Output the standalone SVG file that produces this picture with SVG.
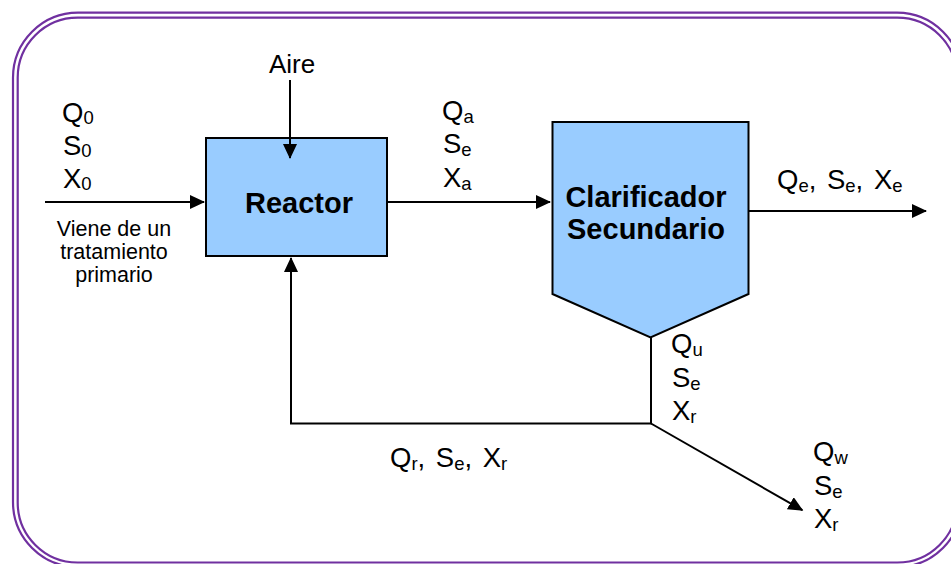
<svg xmlns="http://www.w3.org/2000/svg" width="951" height="564" viewBox="0 0 951 564">
  <style>
    .frame { fill: none; stroke: #7030A0; stroke-width: 2.2; }
    .box { fill: #99CCFF; stroke: #000; stroke-width: 2; }
    .conn { fill: none; stroke: #000; stroke-width: 2; }
    .lbl { font-family: "Liberation Sans", Arial, sans-serif; font-size: 27.5px; fill: #000; }
    .list { word-spacing: 3px; }
    .sub { font-size: 18.5px; }
    .small { font-family: "Liberation Sans", Arial, sans-serif; font-size: 21.5px; fill: #000; text-anchor: middle; }
    .title { font-family: "Liberation Sans", Arial, sans-serif; font-size: 29px; font-weight: bold; fill: #000; text-anchor: middle; }
  </style>
  <defs>
    <marker id="arrow" markerUnits="userSpaceOnUse" markerWidth="16" markerHeight="14" refX="14" refY="7" orient="auto" viewBox="0 0 16 14">
      <path d="M0,0 L15,7 L0,14 z" fill="#000"/>
    </marker>
  </defs>
  <rect width="951" height="564" fill="#fff"/>
  <g id="frame">
    <rect class="frame" x="13" y="12.7" width="949" height="554.3" rx="65" ry="65"/>
    <rect class="frame" x="17.7" y="17.7" width="939.5" height="544.8" rx="60" ry="60"/>
  </g>
  <g id="reactor">
    <rect class="box" x="206" y="138" width="181" height="118"/>
    <text class="title" x="299" y="213">Reactor</text>
  </g>
  <g id="clarificador">
    <polygon class="box" points="552.5,122 748.5,122 748.5,294 650.5,337.5 552.5,294"/>
    <text class="title" x="646" y="207">Clarificador</text>
    <text class="title" x="646" y="239">Secundario</text>
  </g>
  <g id="connectors">
    <line class="conn" x1="45" y1="202" x2="204" y2="202" marker-end="url(#arrow)"/>
    <line class="conn" x1="290" y1="80" x2="290" y2="158" marker-end="url(#arrow)"/>
    <line class="conn" x1="388" y1="202" x2="550" y2="202" marker-end="url(#arrow)"/>
    <line class="conn" x1="749" y1="211" x2="926" y2="211" marker-end="url(#arrow)"/>
    <polyline class="conn" points="651,338 651,423.5 291,423.5 291,258" marker-end="url(#arrow)"/>
    <line class="conn" x1="651" y1="423.5" x2="802.4" y2="510.2" marker-end="url(#arrow)"/>
  </g>
  <g id="aire">
    <text class="lbl" x="292" y="73" text-anchor="middle" style="font-size:26px">Aire</text>
  </g>
  <g id="entrada">
    <text class="lbl" x="62" y="122">Q<tspan class="sub" dy="2">0</tspan></text>
    <text class="lbl" x="63" y="155">S<tspan class="sub" dy="2">0</tspan></text>
    <text class="lbl" x="63" y="188">X<tspan class="sub" dy="2">0</tspan></text>
    <text class="small" x="114" y="236">Viene de un</text>
    <text class="small" x="114" y="259">tratamiento</text>
    <text class="small" x="114" y="282">primario</text>
  </g>
  <g id="salida-reactor">
    <text class="lbl" x="442" y="120">Q<tspan class="sub" dy="3">a</tspan></text>
    <text class="lbl" x="443" y="153">S<tspan class="sub" dy="3">e</tspan></text>
    <text class="lbl" x="443" y="187">X<tspan class="sub" dy="3">a</tspan></text>
  </g>
  <g id="efluente">
    <text class="lbl list" x="777" y="189">Q<tspan class="sub" dy="3">e</tspan><tspan dy="-3">, S</tspan><tspan class="sub" dy="3">e</tspan><tspan dy="-3">, X</tspan><tspan class="sub" dy="3">e</tspan></text>
  </g>
  <g id="fondo">
    <text class="lbl" x="671" y="353">Q<tspan class="sub" dy="3">u</tspan></text>
    <text class="lbl" x="672" y="387">S<tspan class="sub" dy="3">e</tspan></text>
    <text class="lbl" x="672" y="420">X<tspan class="sub" dy="3">r</tspan></text>
  </g>
  <g id="recirculacion">
    <text class="lbl list" x="390" y="467">Q<tspan class="sub" dy="3">r</tspan><tspan dy="-3">, S</tspan><tspan class="sub" dy="3">e</tspan><tspan dy="-3">, X</tspan><tspan class="sub" dy="3">r</tspan></text>
  </g>
  <g id="purga">
    <text class="lbl" x="813" y="461">Q<tspan class="sub" dy="3">w</tspan></text>
    <text class="lbl" x="814" y="495">S<tspan class="sub" dy="3">e</tspan></text>
    <text class="lbl" x="814" y="528">X<tspan class="sub" dy="3">r</tspan></text>
  </g>
</svg>
